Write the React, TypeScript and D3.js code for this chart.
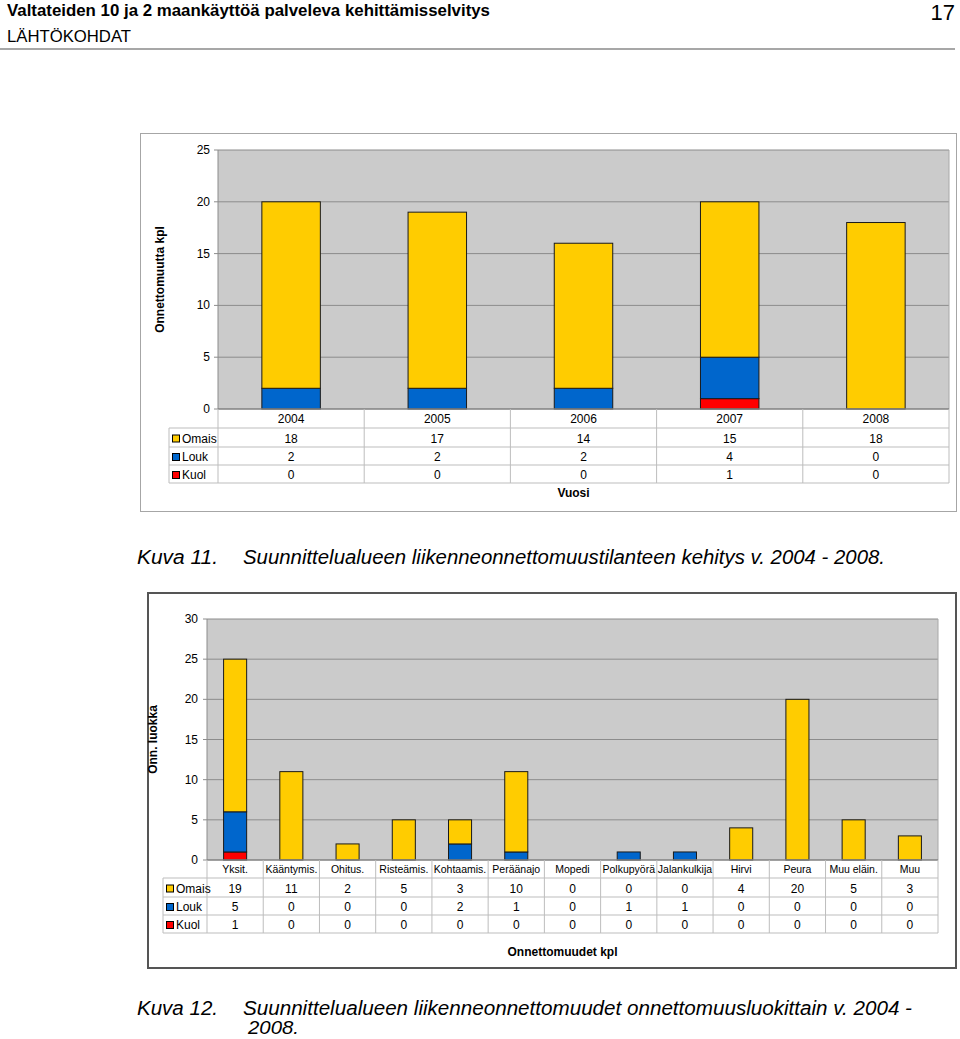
import React from "react";
import * as d3 from "d3";

const years = ["2004", "2005", "2006", "2007", "2008"];
const omais1 = [18, 17, 14, 15, 18];
const louk1 = [2, 2, 2, 4, 0];
const kuol1 = [0, 0, 0, 1, 0];
const ticks1 = [0, 5, 10, 15, 20, 25];

const cats2 = ["Yksit.", "Kääntymis.", "Ohitus.", "Risteämis.", "Kohtaamis.", "Peräänajo", "Mopedi", "Polkupyörä", "Jalankulkija", "Hirvi", "Peura", "Muu eläin.", "Muu"];
const omais2 = [19, 11, 2, 5, 3, 10, 0, 0, 0, 4, 20, 5, 3];
const louk2 = [5, 0, 0, 0, 2, 1, 0, 1, 1, 0, 0, 0, 0];
const kuol2 = [1, 0, 0, 0, 0, 0, 0, 0, 0, 0, 0, 0, 0];
const ticks2 = [0, 5, 10, 15, 20, 25, 30];

const seriesNames = ["Omais", "Louk", "Kuol"];
const seriesKeys = ["omais", "louk", "kuol"];
const colors: Record<string, string> = { omais: "#FFCC00", louk: "#0066CC", kuol: "#FF0000" };

const FONT = "'Liberation Sans', Arial, sans-serif";
const NARROW = "'Liberation Sans Narrow', 'Liberation Sans', Arial, sans-serif";

type Cfg = {
  cats: string[];
  omais: number[];
  louk: number[];
  kuol: number[];
  ticks: number[];
  box: { x: number; y: number; w: number; h: number; stroke: string; sw: number };
  x0: number; x1: number; yTop: number; y0: number;
  rows: number[];
  legendX: number;
  pad: number;
  xTitle: string; xTitleY: number;
  yTitle: string; yTitleX: number;
  tickX: number;
  catFont: number;
};

function StackChart({ c }: { c: Cfg }) {
  const data = c.cats.map((cat, i) => ({ cat, omais: c.omais[i], louk: c.louk[i], kuol: c.kuol[i] }));
  const stack = d3.stack<any>().keys(["kuol", "louk", "omais"]);
  const layers = stack(data);
  const x = d3.scaleBand<string>().domain(c.cats).range([c.x0, c.x1]).paddingInner(c.pad).paddingOuter(c.pad / 2);
  const xCell = d3.scaleBand<string>().domain(c.cats).range([c.x0, c.x1]);
  const yMax = c.ticks[c.ticks.length - 1];
  const y = d3.scaleLinear().domain([0, yMax]).range([c.y0, c.yTop]);
  const r = c.rows;
  const tableColor = "#BDBDBD";
  return (
    <g>
      <rect x={c.box.x} y={c.box.y} width={c.box.w} height={c.box.h} fill="#fff" stroke={c.box.stroke} strokeWidth={c.box.sw} />
      <rect x={c.x0} y={c.yTop} width={c.x1 - c.x0} height={c.y0 - c.yTop} fill="#CBCBCB" />
      {c.ticks.map((t) => (
        <g key={t}>
          {t > 0 && <line x1={c.x0} x2={c.x1} y1={y(t)} y2={y(t)} stroke="#8C8C8C" strokeWidth={1} />}
          <line x1={c.x0 - 4} x2={c.x0} y1={y(t)} y2={y(t)} stroke="#8C8C8C" />
          <text x={c.tickX} y={y(t) + 4} textAnchor="end" fontSize={12} fontFamily={FONT} fill="#000">{t}</text>
        </g>
      ))}
      <line x1={c.x0} x2={c.x0} y1={c.yTop} y2={c.y0} stroke="#8C8C8C" />
      <line x1={c.x1} x2={c.x1} y1={c.yTop} y2={c.y0} stroke="#A8A8A8" />
      {layers.map((layer) =>
        layer.map((d, i) => {
          const h = y(d[0]) - y(d[1]);
          if (h <= 0) return null;
          return (
            <rect key={layer.key + i} x={x(c.cats[i])} y={y(d[1])} width={x.bandwidth()} height={h}
              fill={colors[layer.key]} stroke="#1a1a1a" strokeWidth={1} />
          );
        })
      )}
      <line x1={c.x0} x2={c.x1} y1={c.y0} y2={c.y0} stroke="#808080" strokeWidth={1.5} />
      {[1, 2, 3, 4].map((k) => (
        <line key={"h" + k} x1={c.legendX} x2={c.x1} y1={r[k]} y2={r[k]} stroke={tableColor} />
      ))}
      <line x1={c.legendX} x2={c.legendX} y1={r[1]} y2={r[4]} stroke={tableColor} />
      {c.cats.map((cat, i) => (
        <line key={"v" + i} x1={xCell(cat)} x2={xCell(cat)} y1={c.y0} y2={r[4]} stroke={tableColor} />
      ))}
      <line x1={c.x1} x2={c.x1} y1={c.y0} y2={r[4]} stroke={tableColor} />
      {c.cats.map((cat) => (
        <text key={"c" + cat} x={(xCell(cat) as number) + xCell.bandwidth() / 2} y={(r[0] + r[1]) / 2 + 4}
          textAnchor="middle" fontSize={c.catFont} fontFamily={FONT}>{cat}</text>
      ))}
      {seriesKeys.map((key, si) => {
        const vals = key === "omais" ? c.omais : key === "louk" ? c.louk : c.kuol;
        const cy = (r[si + 1] + r[si + 2]) / 2;
        return (
          <g key={key}>
            <rect x={c.legendX + 3.5} y={cy - 2.5} width={7} height={7} fill={colors[key]} stroke="#000" strokeWidth={1} />
            <text x={c.legendX + 13} y={cy + 5} fontSize={12} fontFamily={FONT}>{seriesNames[si]}</text>
            {vals.map((v, i) => (
              <text key={i} x={(xCell(c.cats[i]) as number) + xCell.bandwidth() / 2} y={cy + 5}
                textAnchor="middle" fontSize={12} fontFamily={FONT}>{v}</text>
            ))}
          </g>
        );
      })}
      <text x={(c.x0 + c.x1) / 2 - 10} y={c.xTitleY} textAnchor="middle" fontSize={12} fontWeight="bold" fontFamily={FONT}>{c.xTitle}</text>
      <text transform={`translate(${c.yTitleX},${(c.yTop + c.y0) / 2}) rotate(-90)`} textAnchor="middle" fontSize={12} fontWeight="bold" fontFamily={FONT}>{c.yTitle}</text>
    </g>
  );
}

const cfg1: Cfg = {
  cats: years, omais: omais1, louk: louk1, kuol: kuol1, ticks: ticks1,
  box: { x: 140.5, y: 133.5, w: 816, h: 378, stroke: "#A6A6A6", sw: 1 },
  x0: 218, x1: 949, yTop: 150, y0: 409,
  rows: [409, 428, 447, 465, 483],
  legendX: 169, pad: 0.6,
  xTitle: "Vuosi", xTitleY: 497,
  yTitle: "Onnettomuutta kpl", yTitleX: 164,
  tickX: 210, catFont: 12,
};

const cfg2: Cfg = {
  cats: cats2, omais: omais2, louk: louk2, kuol: kuol2, ticks: ticks2,
  box: { x: 148, y: 593, w: 808, h: 375, stroke: "#555", sw: 2 },
  x0: 207, x1: 938, yTop: 619, y0: 860,
  rows: [860, 878, 897, 915, 933],
  legendX: 163, pad: 0.59,
  xTitle: "Onnettomuudet kpl", xTitleY: 956,
  yTitle: "Onn. luokka", yTitleX: 157,
  tickX: 198, catFont: 10.5,
};

export default function App() {
  return (
    <svg width={960} height={1039} style={{ position: "absolute", left: 0, top: 0, background: "#fff" }}>
      <text x={7} y={16} fontSize={17} fontWeight="bold" fontFamily={NARROW} textLength={483} lengthAdjust="spacingAndGlyphs">
        Valtateiden 10 ja 2 maankäyttöä palveleva kehittämisselvitys
      </text>
      <text x={955} y={20} textAnchor="end" fontSize={22} fontFamily={NARROW}>17</text>
      <text x={7} y={42} fontSize={16} fontFamily={NARROW} textLength={124} lengthAdjust="spacingAndGlyphs">LÄHTÖKOHDAT</text>
      <line x1={0} x2={955} y1={49} y2={49} stroke="#8a8a8a" strokeWidth={1.5} />

      <StackChart c={cfg1} />

      <text x={137} y={564} fontSize={20} fontStyle="italic" fontFamily={NARROW} textLength={81} lengthAdjust="spacingAndGlyphs">Kuva 11.</text>
      <text x={243} y={564} fontSize={20} fontStyle="italic" fontFamily={NARROW} textLength={642} lengthAdjust="spacingAndGlyphs">
        Suunnittelualueen liikenneonnettomuustilanteen kehitys v. 2004 - 2008.
      </text>

      <StackChart c={cfg2} />

      <text x={137} y={1015} fontSize={20} fontStyle="italic" fontFamily={NARROW} textLength={81} lengthAdjust="spacingAndGlyphs">Kuva 12.</text>
      <text x={243} y={1015} fontSize={20} fontStyle="italic" fontFamily={NARROW} textLength={669} lengthAdjust="spacingAndGlyphs">
        Suunnittelualueen liikenneonnettomuudet onnettomuusluokittain v. 2004 -
      </text>
      <text x={248} y={1034} fontSize={19} fontStyle="italic" fontFamily={NARROW} textLength={51} lengthAdjust="spacingAndGlyphs">2008.</text>
    </svg>
  );
}
